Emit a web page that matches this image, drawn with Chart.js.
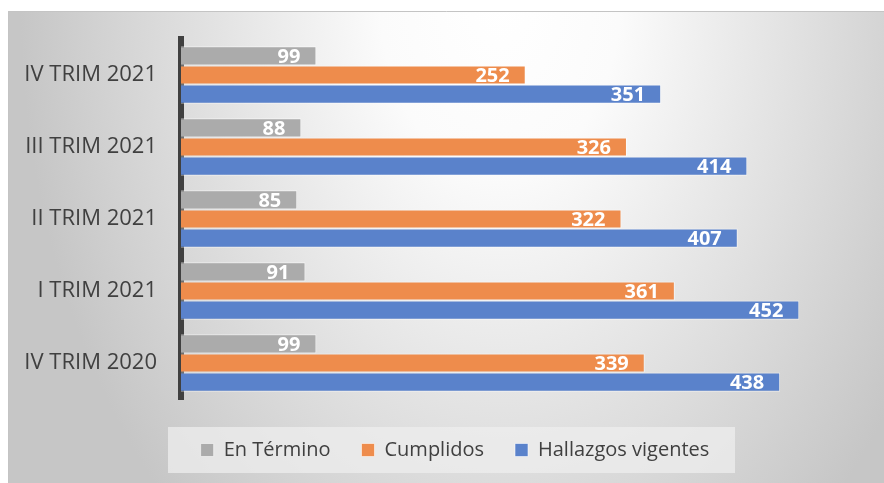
<!DOCTYPE html>
<html lang="es">
<head>
  <meta charset="UTF-8" />
  <title>Hallazgos por trimestre</title>
  <script src="https://cdn.jsdelivr.net/npm/chart.js"></script>
  <style>
    body {
      margin: 0;
      background: #ffffff;
    }
    #wrap {
      position: relative;
      width: 884px;
      height: 483px;
    }
  </style>
</head>
<body>
  <div id="wrap">
    <canvas id="chart" width="884" height="483"></canvas>
  </div>

  <script>
    const categories = ['IV TRIM 2021', 'III TRIM 2021', 'II TRIM 2021', 'I TRIM 2021', 'IV TRIM 2020'];
    const seriesNames = ['En Término', 'Cumplidos', 'Hallazgos vigentes'];
    const enTermino = [99, 88, 85, 91, 99];
    const cumplidos = [252, 326, 322, 361, 339];
    const hallazgos = [351, 414, 407, 452, 438];
    const colors = ['#ababab', '#ee8c4c', '#5a82cb'];

    // background panel + legend plate, drawn before everything
    const panelPlugin = {
      id: 'panel',
      afterLayout(chart) {
        const lg = chart.legend;
        const d = 455 - (lg.left + lg.right) / 2;
        lg.left += d;
        lg.right += d;
        const pad = lg.options.labels.padding;
        const fs = lg.options.labels.font.size;
        const h = lg.height;
        lg.top = 450 - pad - fs / 2;
        lg.bottom = lg.top + h;
      },
      beforeDraw(chart) {
        const ctx = chart.ctx;
        ctx.save();
        ctx.fillStyle = '#ffffff';
        ctx.fillRect(0, 0, chart.width, chart.height);
        ctx.translate(500, 0);
        ctx.scale(1, 1.45);
        const g = ctx.createRadialGradient(0, 0, 0, 0, 0, 480);
        g.addColorStop(0, '#ffffff');
        g.addColorStop(0.25, '#fbfbfb');
        g.addColorStop(1, '#c6c6c6');
        ctx.fillStyle = g;
        ctx.fillRect(8 - 500, 11 / 1.45, 900, 483 / 1.45);
        ctx.restore();

        ctx.save();
        ctx.strokeStyle = '#c4c4c4';
        ctx.lineWidth = 1;
        ctx.beginPath();
        ctx.moveTo(8.5, 483);
        ctx.lineTo(8.5, 11.5);
        ctx.lineTo(884, 11.5);
        ctx.stroke();

        const lg = chart.legend;
        const cx = (lg.left + lg.right) / 2;
        ctx.fillStyle = 'rgba(238,238,238,0.75)';
        ctx.fillRect(cx - 287, 427, 567, 46);
        ctx.restore();
      }
    };

    const valueLabels = {
      id: 'valueLabels',
      afterDatasetsDraw(chart) {
        const ctx = chart.ctx;
        ctx.save();
        ctx.font = 'bold 20px "Open Sans"';
        ctx.fillStyle = '#ffffff';
        ctx.textAlign = 'right';
        ctx.textBaseline = 'middle';
        chart.data.datasets.forEach((ds, i) => {
          chart.getDatasetMeta(i).data.forEach((bar, j) => {
            ctx.fillText(ds.data[j], bar.x - 16, bar.y + 1);
          });
        });
        ctx.restore();
      }
    };

    const ctx = document.getElementById('chart').getContext('2d');
    new Chart(ctx, {
      type: 'bar',
      data: {
        labels: categories,
        datasets: [
          { label: seriesNames[0], data: enTermino, backgroundColor: colors[0] },
          { label: seriesNames[1], data: cumplidos, backgroundColor: colors[1] },
          { label: seriesNames[2], data: hallazgos, backgroundColor: colors[2] }
        ].map(d => Object.assign(d, {
          borderColor: 'rgba(255,255,255,0.55)',
          borderWidth: 1,
          categoryPercentage: 0.8,
          barPercentage: 1
        }))
      },
      options: {
        indexAxis: 'y',
        responsive: false,
        animation: false,
        layout: { padding: { left: 0, right: 19, top: 39, bottom: 23 } },
        scales: {
          x: {
            display: false,
            min: 0,
            max: 500
          },
          y: {
            grid: { display: false, drawTicks: false },
            border: { display: true, color: '#404040', width: 6 },
            ticks: {
              padding: 24,
              color: '#404040',
              font: { family: '"Open Sans"', size: 22 }
            },
            afterFit(scale) { scale.width = 181; }
          }
        },
        plugins: {
          legend: {
            position: 'bottom',
            labels: {
              boxWidth: 13,
              boxHeight: 13,
              padding: 31,
              color: '#404040',
              font: { family: '"Open Sans"', size: 20 }
            }
          },
          tooltip: { enabled: false }
        }
      },
      plugins: [panelPlugin, valueLabels]
    });
  </script>
</body>
</html>
